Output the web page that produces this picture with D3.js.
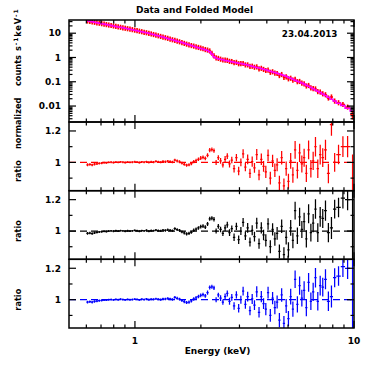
<!DOCTYPE html>
<html><head><meta charset="utf-8">
<script src="https://cdn.jsdelivr.net/npm/d3@7"></script>
<style>html,body{margin:0;padding:0;background:#fff;} svg{display:block;}</style>
</head><body>
<svg id="chart" width="374" height="374"></svg>
<script>
// ---- DATA ----
const binEdges = [
0.600, 0.615, 0.630, 0.646, 0.662, 0.679, 0.696, 0.714, 0.732, 0.750,
0.769, 0.788, 0.808, 0.828, 0.849, 0.870, 0.892, 0.914, 0.937, 0.961,
0.985, 1.010, 1.035, 1.061, 1.088, 1.115, 1.143, 1.172, 1.201, 1.231,
1.262, 1.294, 1.326, 1.360, 1.394, 1.429, 1.465, 1.502, 1.540, 1.578,
1.618, 1.659, 1.700, 1.743, 1.787, 1.832, 1.878, 1.925, 1.973, 2.020,
2.070, 2.120, 2.170, 2.220, 2.270, 2.320, 2.375, 2.430, 2.490, 2.550,
2.610, 2.670, 2.735, 2.800, 2.870, 2.940, 3.010, 3.080, 3.155, 3.230,
3.310, 3.390, 3.470, 3.555, 3.640, 3.730, 3.820, 3.910, 4.005, 4.100,
4.200, 4.300, 4.405, 4.510, 4.620, 4.730, 4.845, 4.960, 5.080, 5.200,
5.320, 5.450, 5.580, 5.710, 5.850, 5.990, 6.130, 6.280, 6.430, 6.590,
6.750, 6.920, 7.100, 7.300, 7.520, 7.760, 8.020, 8.300, 8.700, 9.100,
9.600, 10.10];

const modelCounts = [
32.3, 30.9, 29.6, 28.3, 27.1, 25.9, 24.8, 23.7, 22.7, 21.7,
20.8, 19.9, 19.0, 18.2, 17.4, 16.7, 16.0, 15.3, 14.6, 14.0,
13.3, 12.7, 12.1, 11.5, 10.9, 10.4, 9.85, 9.30, 8.80, 8.30,
7.80, 7.35, 6.90, 6.50, 6.10, 5.70, 5.35, 5.00, 4.70, 4.40,
4.10, 3.85, 3.60, 3.35, 3.12, 2.92, 2.72, 2.54, 2.37,
2.22, 2.07, 1.93, 1.72, 1.38, 1.08, 0.96, 0.89, 0.84, 0.80,
0.76, 0.73, 0.70, 0.67, 0.64, 0.61, 0.585, 0.56, 0.535, 0.51,
0.485, 0.46, 0.435, 0.41, 0.39, 0.37, 0.35, 0.33, 0.31, 0.29,
0.272, 0.255, 0.238, 0.222, 0.207, 0.193, 0.180, 0.167,
0.150, 0.138, 0.127, 0.116, 0.106, 0.097, 0.088, 0.080, 0.072, 0.065,
0.058, 0.052, 0.046, 0.041, 0.036, 0.031, 0.027, 0.023, 0.019, 0.016,
0.013, 0.0105, 0.0082, 0.0062];

// ratio (data/model), bins below 5 keV (shared by the three fits)
const ratioLowMid = [
0.985, 0.987, 0.984, 0.989, 0.991, 0.994, 0.996, 0.998, 0.997, 1.000,
1.001, 0.999, 1.002, 1.000, 1.003, 1.001, 0.999, 1.002, 1.000, 1.001,
1.004, 1.002, 0.999, 1.003, 1.001, 1.005, 1.000, 1.003, 1.002, 1.006,
1.003, 1.001, 1.006, 1.004, 1.008, 1.005, 1.002, 1.015, 1.009, 1.004,
0.995, 0.988, 0.982, 0.985, 0.992, 1.005, 1.012, 1.020, 1.028,
1.032, 1.025, 1.045, 1.078, 1.082, 1.075, 1.000, 1.030, 1.010, 0.985,
1.020, 1.040, 0.990, 1.015, 0.960, 1.030, 0.945, 1.000, 1.055, 0.970,
1.020, 0.930, 1.005, 0.965, 1.050, 0.920, 1.020, 0.975, 0.940, 1.045,
0.900, 1.010, 0.950, 0.985, 0.870, 1.030, 0.850, 0.960];
// bins above 5 keV
const ratioHighRed = [
0.880, 1.010, 0.920, 1.080, 0.950, 1.060, 0.990, 1.030, 0.930, 1.080,
0.960, 1.010, 1.100, 0.960, 1.050, 1.030, 1.080, 0.930, 1.240, 1.000,
1.050, 1.100, 1.100, 0.750];
const ratioHighBlack = [
0.880, 1.020, 0.940, 1.130, 0.970, 1.090, 1.010, 1.060, 0.950, 1.110,
0.990, 1.050, 1.140, 0.990, 1.090, 1.080, 1.130, 0.990, 1.020, 1.140,
1.150, 1.210, 1.200, 1.000];
const ratioHighBlue = [
0.880, 1.020, 0.940, 1.130, 0.970, 1.090, 1.010, 1.060, 0.950, 1.110,
0.990, 1.050, 1.140, 0.990, 1.090, 1.080, 1.130, 0.990, 1.020, 1.140,
1.150, 1.210, 1.200, 1.000];

const ratioErrors = [
0.009, 0.008, 0.008, 0.008, 0.007, 0.007, 0.007, 0.006, 0.006, 0.006,
0.006, 0.006, 0.006, 0.006, 0.006, 0.006, 0.006, 0.006, 0.006, 0.006,
0.006, 0.006, 0.006, 0.006, 0.006, 0.006, 0.007, 0.007, 0.007, 0.007,
0.007, 0.007, 0.007, 0.008, 0.008, 0.008, 0.008, 0.009, 0.009, 0.009,
0.009, 0.010, 0.010, 0.010, 0.010, 0.011, 0.011, 0.011, 0.012,
0.012, 0.012, 0.013, 0.013, 0.013, 0.014, 0.016, 0.015, 0.018, 0.017,
0.020, 0.019, 0.022, 0.021, 0.024, 0.023, 0.027, 0.025, 0.028, 0.027,
0.031, 0.029, 0.032, 0.031, 0.035, 0.033, 0.036, 0.034, 0.039, 0.037,
0.041, 0.039, 0.043, 0.041, 0.045, 0.043, 0.047, 0.045,
0.048, 0.050, 0.049, 0.056, 0.052, 0.058, 0.054, 0.057, 0.055, 0.060,
0.056, 0.058, 0.062, 0.059, 0.063, 0.060, 0.064, 0.062, 0.070, 0.060,
0.062, 0.066, 0.068, 0.300];

const xMajorTicks = [1, 10];
const xMinorTicks = [0.6, 0.7, 0.8, 0.9, 2, 3, 4, 5, 6, 7, 8, 9];
const xTickLabels = ["1", "10"];
const countMajorTicks = [0.01, 0.1, 1, 10];
const countMinorTicks = [0.003,0.004,0.005,0.006,0.007,0.008,0.009,
  0.02,0.03,0.04,0.05,0.06,0.07,0.08,0.09,0.2,0.3,0.4,0.5,0.6,0.7,0.8,0.9,
  2,3,4,5,6,7,8,9,20,30];
const countTickLabels = ["0.01", "0.1", "1", "10"];
const ratioMajorTicks = [1, 1.2];
const ratioMinorTicks = [0.9, 1.1];
const ratioTickLabels = ["1", "1.2"];

const titleText = "Data and Folded Model";
const dateText = "23.04.2013";
const xTitle = "Energy (keV)";
const yTitleWords = ["ratio", "normalized", "counts"];

// ---- LAYOUT ----
const svg = d3.select("#chart");
const L = 69, R = 354;
const x = d3.scaleLog().domain([0.5, 10]).range([L, R]);
const numFont = "'DejaVu Sans', sans-serif";

const bins = d3.range(binEdges.length - 1).map(i => ({
  lo: binEdges[i], hi: binEdges[i+1], c: (binEdges[i] + binEdges[i+1]) / 2,
  m: modelCounts[i], e: ratioErrors[i]
}));
const ratioRed = ratioLowMid.concat(ratioHighRed);
const ratioBlack = ratioLowMid.concat(ratioHighBlack);
const ratioBlue = ratioLowMid.concat(ratioHighBlue);

const panels = [
  {id: "p0", y0: 20, y1: 122, y: d3.scaleLog().domain([0.0022, 35]).range([122, 20]),
   major: countMajorTicks, minor: countMinorTicks, labels: countTickLabels},
  {id: "p1", y0: 122, y1: 190.7, y: d3.scaleLinear().domain([0.82, 1.257]).range([190.7, 122]),
   major: ratioMajorTicks, minor: ratioMinorTicks, labels: ratioTickLabels, ratio: ratioRed, color: "#ff0000"},
  {id: "p2", y0: 190.7, y1: 259.3, y: d3.scaleLinear().domain([0.82, 1.257]).range([259.3, 190.7]),
   major: ratioMajorTicks, minor: ratioMinorTicks, labels: ratioTickLabels, ratio: ratioBlack, color: "#000000"},
  {id: "p3", y0: 259.3, y1: 328, y: d3.scaleLinear().domain([0.82, 1.257]).range([328, 259.3]),
   major: ratioMajorTicks, minor: ratioMinorTicks, labels: ratioTickLabels, ratio: ratioBlue, color: "#0000ff"}
];

const defs = svg.append("defs");
panels.forEach(p => {
  defs.append("clipPath").attr("id", "clip-" + p.id)
    .append("rect").attr("x", L).attr("y", p.y0).attr("width", R - L).attr("height", p.y1 - p.y0);
});

function drawCrosses(g, data, yv, color, sw) {
  g.selectAll("line.h").data(data).join("line").attr("class", "h")
    .attr("x1", d => x(d.lo)).attr("x2", d => x(d.hi))
    .attr("y1", d => yv(d).v).attr("y2", d => yv(d).v)
    .attr("stroke", color).attr("stroke-width", sw);
  g.selectAll("line.v").data(data).join("line").attr("class", "v")
    .attr("x1", d => x(d.c)).attr("x2", d => x(d.c))
    .attr("y1", d => yv(d).lo).attr("y2", d => yv(d).hi)
    .attr("stroke", color).attr("stroke-width", sw);
}

// top panel
{
  const p = panels[0];
  const g = svg.append("g").attr("clip-path", "url(#clip-" + p.id + ")");
  const dataTop = bins.map((b, i) => Object.assign({}, b, {r: ratioRed[i]}));
  drawCrosses(g, dataTop, d => {
    const v = p.y(d.m * d.r);
    const lo = p.y(Math.max(d.m * (d.r - d.e), 1e-5));
    const hi = p.y(d.m * (d.r + d.e));
    return {v: v, lo: Math.max(lo, v + 2.6), hi: Math.min(hi, v - 2.6)};
  }, "#ff0000", 1.6);
  const pts = bins.map(b => [b.lo, b.m]).concat([[bins[bins.length-1].hi, bins[bins.length-1].m]]);
  const line = d3.line().x(d => x(d[0])).y(d => p.y(d[1])).curve(d3.curveStepAfter);
  g.append("path").attr("d", line(pts)).attr("fill", "none")
    .attr("stroke", "#ff00ff").attr("stroke-width", 1.5);
}

// ratio panels
panels.slice(1).forEach(p => {
  const g = svg.append("g").attr("clip-path", "url(#clip-" + p.id + ")");
  g.append("line").attr("x1", L).attr("x2", R).attr("y1", p.y(1)).attr("y2", p.y(1))
    .attr("stroke", p.color).attr("stroke-width", 1.2).attr("stroke-dasharray", "7,4");
  const data = bins.map((b, i) => Object.assign({}, b, {r: p.ratio[i]}));
  drawCrosses(g, data, d => ({v: p.y(d.r), lo: p.y(d.r - d.e), hi: p.y(d.r + d.e)}), p.color, 1.25);
});

// frames and ticks
panels.forEach(p => {
  const g = svg.append("g");
  const tk = (x1, y1, x2, y2) => g.append("line").attr("x1", x1).attr("y1", y1).attr("x2", x2).attr("y2", y2)
    .attr("stroke", "#000").attr("stroke-width", 1.2);
  xMajorTicks.forEach(v => { tk(x(v), p.y1, x(v), p.y1 - 7); tk(x(v), p.y0, x(v), p.y0 + 7); });
  xMinorTicks.forEach(v => { tk(x(v), p.y1, x(v), p.y1 - 3.5); tk(x(v), p.y0, x(v), p.y0 + 3.5); });
  p.major.forEach(v => { tk(L, p.y(v), L + 7, p.y(v)); tk(R, p.y(v), R - 7, p.y(v)); });
  p.minor.forEach(v => { tk(L, p.y(v), L + 3.5, p.y(v)); tk(R, p.y(v), R - 3.5, p.y(v)); });
  g.append("rect").attr("x", L).attr("y", p.y0).attr("width", R - L).attr("height", p.y1 - p.y0)
    .attr("fill", "none").attr("stroke", "#000").attr("stroke-width", 1.5);
  g.selectAll("text.yl").data(p.major).join("text").attr("class", "yl")
    .attr("x", 61).attr("y", v => p.y(v)).attr("dy", "0.36em")
    .attr("text-anchor", "end").attr("font-family", numFont).attr("font-weight", "bold")
    .attr("font-size", 9).text((v, i) => p.labels[i]);
});

// x tick labels
svg.selectAll("text.xl").data(xMajorTicks).join("text").attr("class", "xl")
  .attr("x", v => x(v)).attr("y", 343.5).attr("text-anchor", "middle")
  .attr("font-family", numFont).attr("font-weight", "bold").attr("font-size", 9)
  .text((v, i) => xTickLabels[i]);

// titles
svg.append("text").attr("x", 194.5).attr("y", 12.5).attr("text-anchor", "middle")
  .attr("font-family", numFont).attr("font-weight", "bold").attr("font-size", 9).text(titleText);
svg.append("text").attr("x", 217.5).attr("y", 354).attr("text-anchor", "middle")
  .attr("font-family", numFont).attr("font-weight", "bold").attr("font-size", 9).text(xTitle);
svg.append("text").attr("x", 337.5).attr("y", 36.5).attr("text-anchor", "end")
  .attr("font-family", numFont).attr("font-weight", "bold").attr("font-size", 8.8).text(dateText);

// y titles (word positions along the rotated axis, measured from y = 182)
const yt = svg.append("text").attr("transform", "translate(21,182) rotate(-90)")
  .attr("font-family", numFont).attr("font-weight", "bold").attr("font-size", 8.2);
yt.append("tspan").attr("x", 0).text(yTitleWords[0]);
yt.append("tspan").attr("x", 33).text(yTitleWords[1]);
yt.append("tspan").attr("x", 96).text(yTitleWords[2]);
const unit = yt.append("tspan").attr("x", 131).attr("letter-spacing", 0.9);
unit.text("s");
yt.append("tspan").attr("dy", -3).attr("font-size", 6).attr("letter-spacing", 0.9).text("-1");
yt.append("tspan").attr("dy", 3).attr("letter-spacing", 0.9).text("keV");
yt.append("tspan").attr("dy", -3).attr("font-size", 6).attr("letter-spacing", 0.9).text("-1");
[panels[2], panels[3]].forEach(p => {
  svg.append("text").attr("transform", `translate(21,${(p.y(1)).toFixed(1)}) rotate(-90)`)
    .attr("text-anchor", "middle").attr("font-family", numFont).attr("font-weight", "bold")
    .attr("font-size", 8.2).text(yTitleWords[0]);
});
</script>
</body></html>
